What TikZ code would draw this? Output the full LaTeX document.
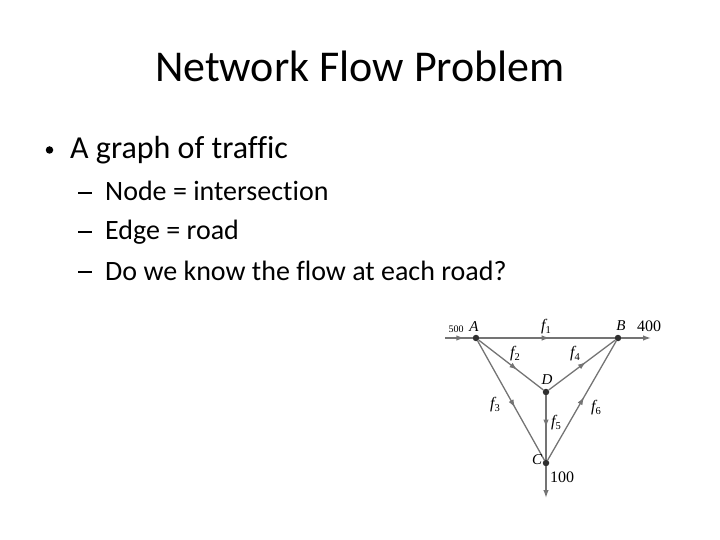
\documentclass[tikz,border=0pt]{standalone}
\usepackage{fontspec}
\setmainfont{Carlito}[Ligatures=NoCommon]
\newfontfamily\timesfont{Liberation Serif}
\usepackage{tikz}
\usetikzlibrary{arrows.meta, decorations.markings}

\definecolor{roadgray}{HTML}{747474}
\definecolor{dotgray}{HTML}{303030}

% f with an upright subscript, as in the figure
\newcommand{\flowlbl}[1]{{\itshape f}\raisebox{-0.35ex}{\fontsize{10.5}{10.5}\selectfont #1}}

\begin{document}
\begin{tikzpicture}[x=1pt, y=-1pt,
        junction/.style={circle, fill=dotgray, inner sep=0pt, minimum size=6.5pt},
        lbl/.style={font=\timesfont\fontsize{16}{16}\selectfont, inner sep=0pt},
        vname/.style={font=\timesfont\itshape\fontsize{15}{15}\selectfont, inner sep=0pt},
        road/.style={draw=roadgray, line width=1.3pt},
        flow/.style={road, postaction={decorate},
            decoration={markings, mark=at position #1 with
                {\arrow[roadgray]{Latex[length=8pt, width=5.5pt]}}}},
        flow/.default=0.55,
        exit/.style={road, -{Latex[length=8pt, width=5.5pt]}},
        headline/.style={font=\fontsize{44}{44}\selectfont, inner sep=0pt, anchor=base},
        bulletline/.style={font=\fontsize{32}{32}\selectfont, inner sep=0pt, anchor=base west},
        subline/.style={font=\fontsize{28}{28}\selectfont, inner sep=0pt, anchor=base west},
        dashmark/.style={fill=black, inner sep=0pt, minimum width=14.5pt, minimum height=1.8pt}]

    \useasboundingbox (0,0) rectangle (720,540);

    % slide text
    \node[headline] (head) at (360,82) {Network Flow Problem};
    \node[circle, fill=black, inner sep=0pt, minimum size=7.5pt] (dot1) at (49.5,150) {};
    \node[bulletline] (b1) at (70,159) {A graph of traffic};
    \node[dashmark] (d1) at (85,193) {};
    \node[subline] (s1) at (105,201) {Node = intersection};
    \node[dashmark] (d2) at (85,232) {};
    \node[subline] (s2) at (105,240) {Edge = road};
    \node[dashmark] (d3) at (85,272) {};
    \node[subline] (s3) at (105,280) {Do we know the flow at each road?};

    % intersections
    \node[junction] (A) at (476,338) {};
    \node[junction] (B) at (618,338) {};
    \node[junction] (D) at (546,392) {};
    \node[junction] (C) at (546,463) {};
    \coordinate (in)   at (445,338);
    \coordinate (outB) at (651,338);
    \coordinate (outC) at (546,498);

    % roads
    \draw[flow=0.7]  (in) -- (A);
    \draw[flow=0.52] (A) -- (B);
    \draw[flow=0.6]  (A) -- (D);
    \draw[flow=0.56] (D) -- (B);
    \draw[flow=0.56] (A) -- (C);
    \draw[flow=0.5]  (D) -- (C);
    \draw[flow=0.53] (C) -- (B);
    \draw[exit] (B) -- (outB);
    \draw[exit] (C) -- (outC);

    % labels
    \node[lbl, font=\timesfont\fontsize{10}{10}\selectfont] (v500) at (456,329) {500};
    \node[vname] (nA) at (474,327) {A};
    \node[vname] (nB) at (621,326) {B};
    \node[vname] (nD) at (547,380) {D};
    \node[vname] (nC) at (537,460) {C};
    \node[lbl] (v400) at (649,326) {400};
    \node[lbl] (v100) at (562,477) {100};
    \node[lbl] (f1) at (546,327) {\flowlbl{1}};
    \node[lbl] (f2) at (515,354) {\flowlbl{2}};
    \node[lbl] (f4) at (575,354) {\flowlbl{4}};
    \node[lbl] (f3) at (495,405) {\flowlbl{3}};
    \node[lbl] (f6) at (596,408) {\flowlbl{6}};
    \node[lbl] (f5) at (556,423) {\flowlbl{5}};
\end{tikzpicture}
\end{document}
